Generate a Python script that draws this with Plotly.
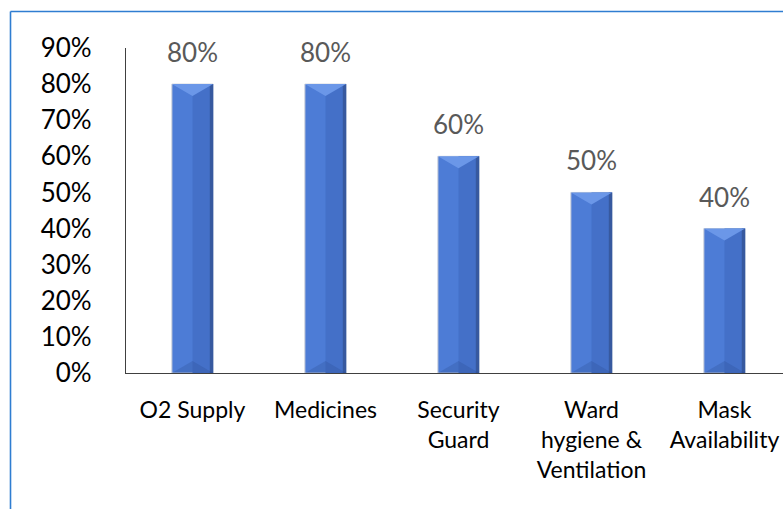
import plotly.graph_objects as go

# Survey results: share of respondents reporting adequacy per facility item
categories = ["O2 Supply", "Medicines", "Security<br>Guard",
              "Ward<br>hygiene &<br>Ventilation", "Mask<br>Availability"]
values = [0.80, 0.80, 0.60, 0.50, 0.40]
y_ticks = [0.0, 0.1, 0.2, 0.3, 0.4, 0.5, 0.6, 0.7, 0.8, 0.9]

W, H = 783, 509
ML, MR, MT, MB = 126, 0, 48, 136
X_RANGE = [-0.5, 4.44]
Y_RANGE = [0, 0.9]

xs = list(range(len(values)))
bar_w = 0.31
half = bar_w / 2
# bevel depth expressed in axis units (about 12 px)
bevel = 12 / ((H - MT - MB) / (Y_RANGE[1] - Y_RANGE[0]))

FONT = "Lato"

fig = go.Figure()

# main body of each column
fig.add_trace(go.Bar(
    x=xs, y=values, width=bar_w,
    marker=dict(color="#4D7CD6", line=dict(color="#C9CED8", width=1)),
    hoverinfo="skip", showlegend=False,
))
# shaded right half
fig.add_trace(go.Bar(
    x=[x + half / 2 for x in xs], y=values, width=half,
    marker=dict(color="#4470C8", line=dict(width=0)),
    hoverinfo="skip", showlegend=False,
))
# dark right edge
edge = 0.025
fig.add_trace(go.Bar(
    x=[x + half - edge / 2 for x in xs], y=values, width=edge,
    marker=dict(color="#37599F", line=dict(width=0)),
    hoverinfo="skip", showlegend=False,
))

# bevel triangles at the top (light) and bottom (dark) of each column
for x, v in zip(xs, values):
    fig.add_trace(go.Scatter(
        x=[x - half, x + half, x, x - half],
        y=[v, v, v - bevel, v],
        fill="toself", fillcolor="#6B97E8", mode="lines",
        line=dict(width=0), hoverinfo="skip", showlegend=False,
    ))
    fig.add_trace(go.Scatter(
        x=[x - half, x + half, x, x - half],
        y=[0, 0, bevel, 0],
        fill="toself", fillcolor="rgba(40,70,140,0.25)", mode="lines",
        line=dict(width=0), hoverinfo="skip", showlegend=False,
    ))

# value labels above the columns
for x, v in zip(xs, values):
    fig.add_annotation(
        x=x, y=v, text=f"{v:.0%}", showarrow=False,
        yanchor="bottom", yshift=14,
        font=dict(family=FONT, size=26, color="#595959"),
    )

# outer frame of the chart area
px_x = lambda p: (p - ML) / (W - ML - MR)
px_y = lambda p: (H - MB - p) / (H - MT - MB)
fig.add_shape(type="line", xref="paper", yref="paper",
              x0=px_x(10.5), x1=px_x(10.5), y0=px_y(11.5), y1=px_y(H + 10),
              line=dict(color="#2F7DD1", width=1.6))
fig.add_shape(type="line", xref="paper", yref="paper",
              x0=px_x(10.5), x1=px_x(W + 10), y0=px_y(11.5), y1=px_y(11.5),
              line=dict(color="#2F7DD1", width=1.6))

fig.update_layout(
    width=W, height=H,
    margin=dict(l=ML, r=MR, t=MT, b=MB),
    paper_bgcolor="white", plot_bgcolor="white",
    barmode="overlay",
    font=dict(family=FONT, color="black"),
    xaxis=dict(
        range=X_RANGE, tickmode="array", tickvals=xs, ticktext=categories,
        showline=True, linecolor="#404040", linewidth=1.3,
        showgrid=False, zeroline=False, ticks="",
        tickfont=dict(family=FONT, size=23, color="black"),
        ticklabelstandoff=16, fixedrange=True,
    ),
    yaxis=dict(
        range=Y_RANGE, tickmode="array", tickvals=y_ticks,
        tickformat=".0%", showline=True, linecolor="#404040", linewidth=1.3,
        showgrid=False, zeroline=False, ticks="",
        tickfont=dict(family=FONT, size=26, color="black"),
        ticklabelstandoff=28, fixedrange=True,
    ),
)

fig.write_html("out.html", config={"displayModeBar": False})
